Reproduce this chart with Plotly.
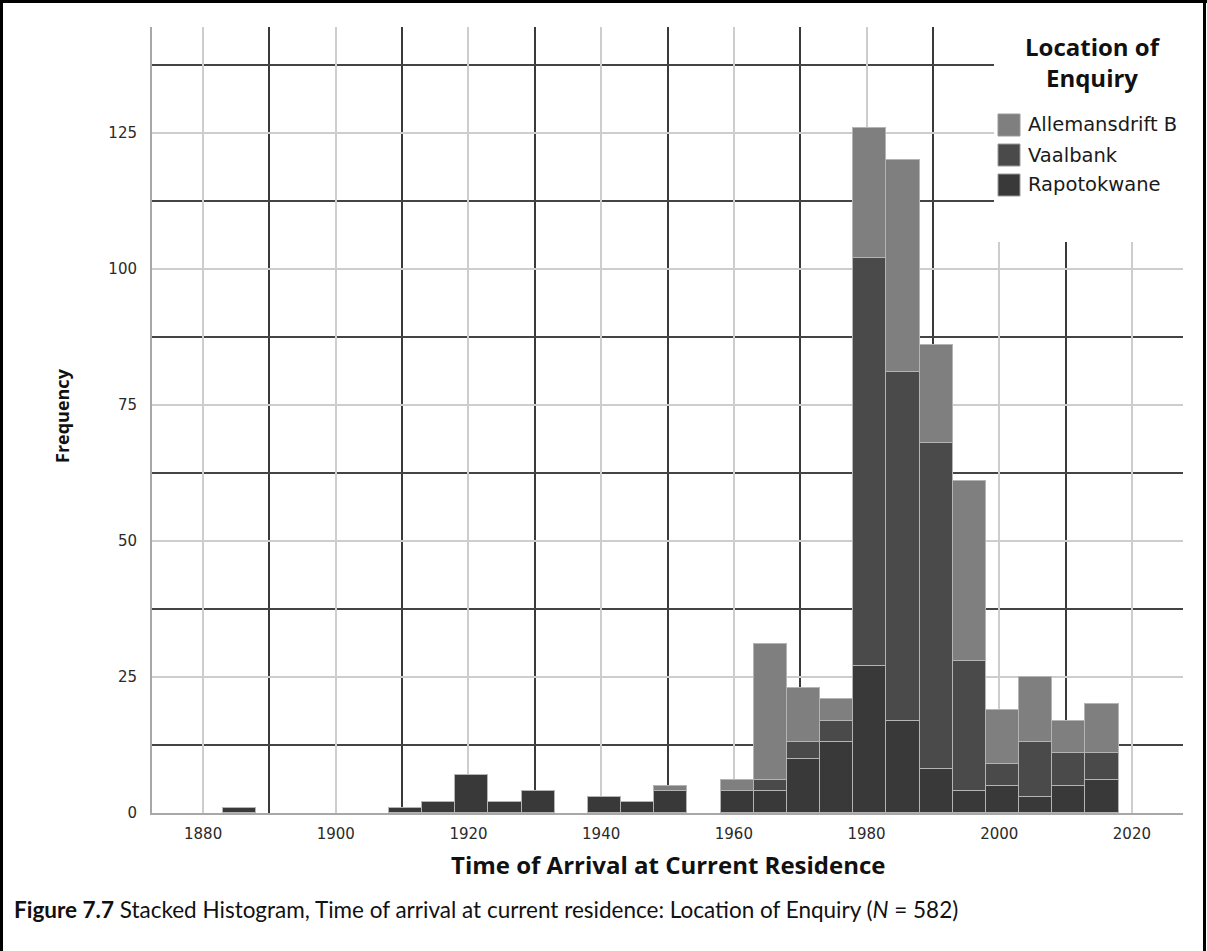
import plotly.graph_objects as go

# Five-year arrival bins (start year of each bin)
bin_starts = [1883, 1888, 1893, 1898, 1903, 1908, 1913, 1918, 1923, 1928, 1933, 1938, 1943, 1948,
              1953, 1958, 1963, 1968, 1973, 1978, 1983, 1988, 1993, 1998, 2003, 2008, 2013]
bin_width = 5

# Counts per location, one value per bin
rapotokwane = [1, 0, 0, 0, 0, 1, 2, 7, 2, 4, 0, 3, 2, 4,
               0, 4, 4, 10, 13, 27, 17, 8, 4, 5, 3, 5, 6]
vaalbank = [0, 0, 0, 0, 0, 0, 0, 0, 0, 0, 0, 0, 0, 0,
            0, 0, 2, 3, 4, 75, 64, 60, 24, 4, 10, 6, 5]
allemansdrift_b = [0, 0, 0, 0, 0, 0, 0, 0, 0, 0, 0, 0, 0, 1,
                   0, 2, 25, 10, 4, 24, 39, 18, 33, 10, 12, 6, 9]

series_names = ["Allemansdrift B", "Vaalbank", "Rapotokwane"]
series_colors = ["#7f7f7f", "#4a4a4a", "#393939"]

x_ticks = [1880, 1900, 1920, 1940, 1960, 1980, 2000, 2020]
y_ticks = [0, 25, 50, 75, 100, 125]

# plot-area geometry in pixels (used to place paper-space decorations)
W, H = 1207, 951
L, R, T, B = 152, 24, 27, 138
PW, PH = W - L - R, H - T - B


def px_x(px):
    return (px - L) / PW


def px_y(py):
    return (H - B - py) / PH


centers = [s + bin_width / 2 for s in bin_starts]


def nz(vals):
    return [v if v else None for v in vals]


fig = go.Figure()
# stacked from the bottom: Rapotokwane, Vaalbank, Allemansdrift B
for name, vals, color in [("Rapotokwane", rapotokwane, series_colors[2]),
                          ("Vaalbank", vaalbank, series_colors[1]),
                          ("Allemansdrift B", allemansdrift_b, series_colors[0])]:
    fig.add_trace(go.Bar(
        x=centers, y=nz(vals), width=bin_width, name=name,
        marker=dict(color=color, line=dict(color="#b4b4b4", width=1.2)),
        showlegend=False,
    ))

tick_font = dict(family="DejaVu Sans", size=15, color="#2a2a2a")

fig.update_layout(
    width=W, height=H,
    margin=dict(l=L, r=R, t=T, b=B, pad=0),
    paper_bgcolor="white", plot_bgcolor="white",
    barmode="stack", bargap=0,
    xaxis=dict(
        range=[1872.3, 2027.7], tickmode="array", tickvals=x_ticks,
        ticktext=[str(v) for v in x_ticks], tickfont=tick_font,
        showgrid=True, gridcolor="#cdcdcd", gridwidth=1.5,
        minor=dict(tick0=1880, dtick=10, showgrid=True, gridcolor="#3a3a3a", gridwidth=1.5),
        showline=True, linecolor="#a8a8a8", linewidth=2,
        zeroline=False, ticks="", ticklabelstandoff=6,
    ),
    yaxis=dict(
        range=[0, 144.5], tickmode="array", tickvals=y_ticks,
        ticktext=[str(v) for v in y_ticks], tickfont=tick_font,
        showgrid=True, gridcolor="#cdcdcd", gridwidth=1.5,
        minor=dict(tick0=0, dtick=12.5, showgrid=True, gridcolor="#444444", gridwidth=1.5),
        showline=True, linecolor="#a8a8a8", linewidth=2,
        zeroline=False, ticks="", ticklabelstandoff=10,
    ),
    font=dict(family="DejaVu Sans", color="#111"),
)

shapes = []
# white panel behind the legend
shapes.append(dict(type="rect", xref="paper", yref="paper",
                   x0=px_x(994), x1=px_x(1190), y0=px_y(242), y1=px_y(20),
                   fillcolor="white", line=dict(width=0), layer="above"))
# legend swatches
for i, color in enumerate(series_colors):
    cy = 125 + 30 * i
    shapes.append(dict(type="rect", xref="paper", yref="paper",
                       x0=px_x(998), x1=px_x(1020), y0=px_y(cy + 11), y1=px_y(cy - 11),
                       fillcolor=color, line=dict(color="#9a9a9a", width=1), layer="above"))
# page frame (left, top, right)
for (x0, y0, x1, y1) in [(1.5, 952, 1.5, 1.5), (0, 1.5, W, 1.5), (1204.5, 1.5, 1204.5, 952)]:
    shapes.append(dict(type="line", xref="paper", yref="paper",
                       x0=px_x(x0), x1=px_x(x1), y0=px_y(y0), y1=px_y(y1),
                       line=dict(color="black", width=3), layer="above"))
fig.update_layout(shapes=shapes)

annotations = []
annotations.append(dict(text="<b>Location of<br>Enquiry</b>", xref="paper", yref="paper",
                        x=px_x(1093), y=px_y(62), xanchor="center", yanchor="middle",
                        showarrow=False, align="center",
                        font=dict(family="Open Sans", size=24, color="#111")))
for i, name in enumerate(series_names):
    cy = 125 + 30 * i
    annotations.append(dict(text=name, xref="paper", yref="paper",
                            x=px_x(1026), y=px_y(cy), xanchor="left", yanchor="middle",
                            showarrow=False,
                            font=dict(family="DejaVu Sans", size=19.5, color="#1a1a1a")))
annotations.append(dict(text="<b>Frequency</b>", xref="paper", yref="paper",
                        x=px_x(62), y=px_y(415), xanchor="center", yanchor="middle",
                        textangle=-90, showarrow=False,
                        font=dict(family="Open Sans", size=18, color="#111")))
annotations.append(dict(text="<b>Time of Arrival at Current Residence</b>", xref="paper", yref="paper",
                        x=px_x(668), y=px_y(864), xanchor="center", yanchor="middle",
                        showarrow=False,
                        font=dict(family="Open Sans", size=24, color="#111")))
annotations.append(dict(text="<b>Figure 7.7</b> Stacked Histogram, Time of arrival at current residence: "
                             "Location of Enquiry (<i>N</i> = 582)",
                        xref="paper", yref="paper",
                        x=px_x(12), y=px_y(909), xanchor="left", yanchor="middle",
                        showarrow=False,
                        font=dict(family="Lato", size=22.5, color="#111")))
fig.update_layout(annotations=annotations)

fig.write_html("out.html")
